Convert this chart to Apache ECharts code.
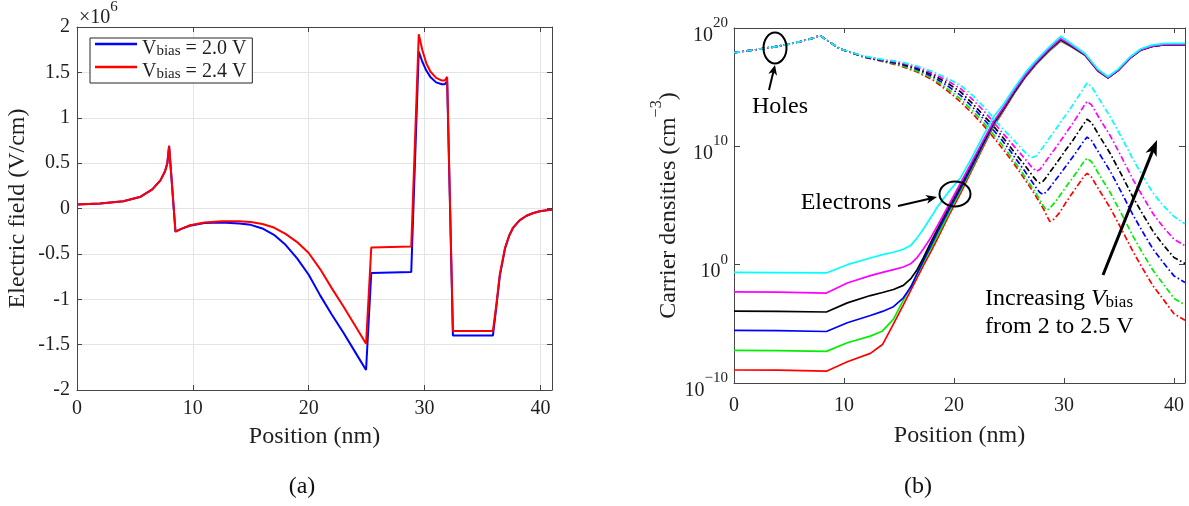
<!DOCTYPE html>
<html><head><meta charset="utf-8">
<script src="https://cdn.jsdelivr.net/npm/echarts@6/dist/echarts.min.js"></script>
<style>html,body{margin:0;padding:0;background:#fff}#c{width:1189px;height:506px}</style>
</head><body><div id="c"></div>
<script>
// ---------- Panel (a): electric field (x1e6 V/cm) ----------
const posField = [0, 2, 4, 5.5, 6.5, 7.2, 7.6, 7.8, 7.95, 8.5, 9, 9.75, 11, 12.5, 14, 15, 16, 17, 18, 19, 20, 21, 22, 23, 24, 24.95, 25.4, 28.85, 29.5, 29.8, 30.15, 30.5, 31, 31.5, 31.75, 31.95, 32.45, 35.9, 36.2, 36.5, 36.95, 37.3, 37.65, 38.2, 38.8, 39.4, 39.95, 41];
const fieldV20 = [0.045, 0.055, 0.08, 0.13, 0.21, 0.31, 0.41, 0.5, 0.69, -0.255, -0.225, -0.19, -0.16, -0.155, -0.165, -0.18, -0.22, -0.29, -0.40, -0.55, -0.73, -0.96, -1.17, -1.37, -1.58, -1.78, -0.71, -0.70, 1.73, 1.62, 1.52, 1.45, 1.39, 1.37, 1.37, 1.40, -1.40, -1.40, -1.08, -0.74, -0.44, -0.30, -0.21, -0.13, -0.08, -0.05, -0.03, -0.01];
const fieldV24 = [0.045, 0.055, 0.08, 0.13, 0.21, 0.31, 0.41, 0.5, 0.69, -0.255, -0.225, -0.185, -0.155, -0.14, -0.14, -0.15, -0.17, -0.21, -0.28, -0.37, -0.49, -0.67, -0.88, -1.08, -1.29, -1.49, -0.43, -0.42, 1.92, 1.75, 1.6, 1.51, 1.44, 1.41, 1.41, 1.45, -1.35, -1.35, -1.05, -0.72, -0.43, -0.30, -0.21, -0.13, -0.08, -0.05, -0.03, -0.01];
const legendNames = ['Vbias = 2.0 V', 'Vbias = 2.4 V'];

// ---------- Panel (b): carrier densities, log10(cm^-3) ----------
const biasLabels = ['2.0', '2.1', '2.2', '2.3', '2.4', '2.5'];
const posElec = [0, 4, 8.4, 10.3, 12.4, 13.5, 14.5, 15.4, 16.1, 16.6, 17.2, 17.9, 18.5, 19.5, 20.6, 21.6, 22.6, 23.6, 24.5, 25.5, 26.5, 27.4, 28.6, 29.7, 30.7, 31.9, 33.1, 34.0, 34.9, 36.0, 37.0, 38.0, 39.0, 40.0, 41];
const logElecRed     = [-8.9, -8.92, -9.0, -8.2, -7.5, -6.75, -5.0, -3.4, -2.1, -1.2, -0.1, 1.1, 2.2, 4.1, 6.05, 7.95, 9.85, 11.7, 13.0, 14.5, 15.85, 16.85, 18.0, 18.9, 18.4, 17.7, 16.35, 15.8, 16.4, 17.45, 18.15, 18.45, 18.58, 18.6, 18.6];
const logElecGreen   = [-7.25, -7.27, -7.33, -6.6, -6.04, -5.6, -4.6, -3.0, -1.8, -0.9, 0.15, 1.4, 2.45, 4.3, 6.25, 8.1, 10.0, 11.8, 13.1, 14.55, 15.9, 16.9, 18.05, 18.95, 18.43, 17.72, 16.37, 15.8, 16.4, 17.45, 18.15, 18.45, 18.58, 18.6, 18.6];
const logElecBlue    = [-5.56, -5.58, -5.65, -4.91, -4.3, -3.95, -3.55, -2.8, -1.85, -0.85, 0.3, 1.6, 2.75, 4.55, 6.45, 8.25, 10.1, 11.9, 13.15, 14.6, 15.95, 16.95, 18.1, 19.0, 18.46, 17.74, 16.38, 15.8, 16.4, 17.45, 18.15, 18.45, 18.58, 18.6, 18.6];
const logElecBlack   = [-3.93, -3.95, -4.0, -3.23, -2.61, -2.35, -2.1, -1.75, -1.15, -0.5, 0.55, 1.9, 3.0, 4.8, 6.65, 8.45, 10.25, 12.0, 13.2, 14.65, 16.0, 17.0, 18.15, 19.05, 18.5, 17.75, 16.4, 15.8, 16.4, 17.45, 18.15, 18.45, 18.58, 18.6, 18.6];
const logElecMagenta = [-2.3, -2.32, -2.4, -1.55, -0.93, -0.65, -0.42, -0.2, 0.1, 0.55, 1.3, 2.3, 3.3, 5.0, 6.9, 8.65, 10.4, 12.1, 13.3, 14.75, 16.05, 17.05, 18.2, 19.1, 18.53, 17.77, 16.42, 15.82, 16.42, 17.47, 18.17, 18.47, 18.6, 18.62, 18.62];
const logElecCyan    = [-0.65, -0.67, -0.7, 0.0, 0.56, 0.85, 1.05, 1.3, 1.65, 2.2, 3.0, 4.0, 4.9, 6.15, 7.35, 9.0, 10.8, 12.5, 13.55, 14.95, 16.25, 17.2, 18.35, 19.3, 18.65, 17.85, 16.5, 15.88, 16.5, 17.55, 18.25, 18.55, 18.68, 18.7, 18.7];

const posHole = [0, 2, 4, 6, 7.2, 7.8, 8.4, 9.6, 11.8, 13.5, 15.1, 16.6, 18.1, 19.4, 20.6, 21.7, 22.7, 23.5, 24.2, 25.0, 25.7, 26.4, 26.8, 27.1, 27.5, 27.8, 28.1, 28.4, 28.7, 29.1, 29.6, 30.2, 30.8, 31.4, 31.8, 32.1, 32.5, 33.2, 34.2, 35.2, 36.3, 37.2, 38.1, 39.0, 40.0, 41];
const logHoleRed     = [17.92, 18.17, 18.45, 18.85, 19.15, 19.38, 19.0, 18.25, 17.55, 17.18, 16.8, 16.3, 15.6, 14.7, 13.75, 12.75, 11.75, 10.85, 10.05, 9.1, 8.2, 7.25, 6.7, 6.3, 5.7, 5.25, 4.75, 4.2, 3.65, 3.85, 4.4, 5.3, 6.1, 6.9, 7.45, 7.72, 7.4, 6.3, 4.8, 3.05, 1.05, -0.4, -1.8, -2.9, -4.15, -4.7];
const logHoleGreen   = [17.92, 18.17, 18.45, 18.85, 19.15, 19.38, 19.0, 18.25, 17.55, 17.2, 16.87, 16.38, 15.72, 14.88, 13.99, 13.0, 12.0, 11.1, 10.33, 9.35, 8.45, 7.5, 6.95, 6.5, 5.95, 5.5, 5.0, 4.6, 4.75, 5.2, 5.8, 6.6, 7.35, 8.15, 8.7, 9.0, 8.7, 7.6, 6.1, 4.35, 2.35, 0.9, -0.5, -1.6, -2.85, -3.4];
const logHoleBlue    = [17.92, 18.17, 18.45, 18.85, 19.15, 19.38, 19.0, 18.25, 17.57, 17.23, 16.95, 16.52, 15.88, 15.12, 14.31, 13.3, 12.3, 11.45, 10.71, 9.75, 8.85, 7.95, 7.4, 7.0, 6.45, 6.1, 5.95, 6.15, 6.5, 7.0, 7.6, 8.35, 9.1, 9.9, 10.45, 10.78, 10.5, 9.4, 7.9, 6.15, 4.15, 2.7, 1.3, 0.2, -0.95, -1.5];
const logHoleBlack   = [17.92, 18.17, 18.45, 18.85, 19.15, 19.38, 19.0, 18.25, 17.58, 17.27, 17.02, 16.62, 16.02, 15.35, 14.6, 13.6, 12.6, 11.8, 11.04, 10.1, 9.25, 8.45, 7.95, 7.55, 7.1, 6.9, 7.05, 7.4, 7.8, 8.3, 8.95, 9.75, 10.5, 11.35, 11.9, 12.3, 12.0, 10.9, 9.4, 7.65, 5.65, 4.2, 2.8, 1.7, 0.6, 0.1];
const logHoleMagenta = [17.92, 18.17, 18.45, 18.85, 19.15, 19.38, 19.0, 18.25, 17.6, 17.3, 17.08, 16.7, 16.15, 15.55, 14.87, 13.95, 13.0, 12.15, 11.37, 10.5, 9.75, 9.0, 8.55, 8.2, 7.9, 8.05, 8.4, 8.8, 9.2, 9.7, 10.35, 11.15, 11.95, 12.8, 13.4, 13.8, 13.5, 12.4, 10.9, 9.15, 7.15, 5.7, 4.3, 3.2, 2.15, 1.6];
const logHoleCyan    = [17.92, 18.17, 18.45, 18.85, 19.15, 19.38, 19.0, 18.25, 17.62, 17.35, 17.15, 16.8, 16.3, 15.75, 15.15, 14.3, 13.35, 12.5, 11.7, 10.95, 10.25, 9.55, 9.2, 9.05, 9.2, 9.55, 9.95, 10.35, 10.75, 11.25, 11.9, 12.7, 13.5, 14.35, 14.95, 15.35, 15.05, 14.0, 12.5, 10.8, 8.85, 7.4, 6.05, 5.0, 4.07, 3.45];

// ---------- styling ----------
const FONT = '"Liberation Serif","Times New Roman",serif';
const TXT = '#1f1f1f';
const AX = '#454545';
const colors6 = ['#ff0000', '#00ee00', '#0000ff', '#000000', '#ff00ff', '#00ffff'];
const elecSets = [logElecRed, logElecGreen, logElecBlue, logElecBlack, logElecMagenta, logElecCyan];
const holeSets = [logHoleRed, logHoleGreen, logHoleBlue, logHoleBlack, logHoleMagenta, logHoleCyan];

const zip = (xs, ys) => xs.map((x, i) => [x, ys[i]]);
const zipLog = (xs, es) => xs.map((x, i) => [x, Math.pow(10, es[i])]);

function xAx(grid, pos, showLabel, margin, split) {
  return {
    type: 'value', gridIndex: grid, position: pos, min: 0, max: 41, interval: 10,
    axisLine: { onZero: false, lineStyle: { color: AX, width: 1 } },
    axisTick: { show: true, inside: true, length: 5, lineStyle: { color: AX } },
    axisLabel: { show: showLabel, margin: margin, showMaxLabel: false, color: TXT, fontSize: 20, fontFamily: FONT },
    splitLine: { show: split, lineStyle: { color: '#e4e4e4', width: 1 } },
    name: showLabel ? 'Position (nm)' : '', nameLocation: 'middle', nameGap: grid === 0 ? 35 : 41,
    nameTextStyle: { color: TXT, fontSize: 24, fontFamily: FONT }
  };
}

const supLabel = v => {
  const p = Math.round(Math.log10(v));
  return '{b|10}{s|' + (p < 0 ? '\u2212' + (-p) : p) + '}';
};
const supRich = {
  b: { fontSize: 20, fontFamily: FONT, color: TXT, lineHeight: 30, verticalAlign: 'bottom' },
  s: { fontSize: 15, fontFamily: FONT, color: TXT, lineHeight: 14, verticalAlign: 'top' }
};

const series = [];
series.push({
  type: 'line', name: legendNames[0], xAxisIndex: 0, yAxisIndex: 0, data: zip(posField, fieldV20),
  symbol: 'none', showSymbol: false, lineStyle: { color: '#0000ff', width: 2 }, itemStyle: { color: '#0000ff' }, z: 3
});
series.push({
  type: 'line', name: legendNames[1], xAxisIndex: 0, yAxisIndex: 0, data: zip(posField, fieldV24),
  symbol: 'none', showSymbol: false, lineStyle: { color: '#ff0000', width: 2 }, itemStyle: { color: '#ff0000' }, z: 4
});
elecSets.forEach((es, k) => series.push({
  type: 'line', name: 'n ' + biasLabels[k] + ' V', xAxisIndex: 2, yAxisIndex: 2, data: zipLog(posElec, es),
  symbol: 'none', showSymbol: false, lineStyle: { color: colors6[k], width: 1.7 }, z: 3 + k
}));
holeSets.forEach((es, k) => series.push({
  type: 'line', name: 'p ' + biasLabels[k] + ' V', xAxisIndex: 2, yAxisIndex: 2, data: zipLog(posHole, es),
  symbol: 'none', showSymbol: false, lineStyle: { color: colors6[k], width: 1.7, type: [6, 2.5, 1.6, 2.5], cap: 'butt' }, z: 3 + k
}));

function arrow(x1, y1, x2, y2, w, hl, hw) {
  const dx = x2 - x1, dy = y2 - y1, L = Math.hypot(dx, dy), ux = dx / L, uy = dy / L, px = -uy, py = ux;
  const bx = x2 - ux * hl, by = y2 - uy * hl;
  return [
    { type: 'line', shape: { x1: x1, y1: y1, x2: x2 - ux * hl * 0.6, y2: y2 - uy * hl * 0.6 }, style: { stroke: '#000', lineWidth: w }, z: 100 },
    { type: 'polygon', shape: { points: [[x2, y2], [bx + px * hw, by + py * hw], [x2 - ux * hl * 0.72, y2 - uy * hl * 0.72], [bx - px * hw, by - py * hw]] }, style: { fill: '#000' }, z: 100 }
  ];
}

const graphics = [
  { type: 'text', x: 79, y: 0, z: 100, style: { text: '{a|\u00d710}{b|6}', textAlign: 'left', textVerticalAlign: 'top',
      rich: { a: { fontSize: 20, fontFamily: FONT, fill: TXT, color: TXT, lineHeight: 28, verticalAlign: 'bottom' },
              b: { fontSize: 15, fontFamily: FONT, fill: TXT, color: TXT, lineHeight: 14, verticalAlign: 'top' } } } },
  { type: 'text', x: 302, y: 487, z: 100, style: { text: '(a)', fontSize: 24, fontFamily: FONT, fill: '#111', textAlign: 'center', textVerticalAlign: 'middle' } },
  { type: 'text', x: 918, y: 487, z: 100, style: { text: '(b)', fontSize: 24, fontFamily: FONT, fill: '#111', textAlign: 'center', textVerticalAlign: 'middle' } },
  { type: 'ellipse', shape: { cx: 775, cy: 48, rx: 11.5, ry: 15.5 }, style: { fill: 'none', stroke: '#000', lineWidth: 2 }, z: 100 },
  { type: 'ellipse', shape: { cx: 955, cy: 194, rx: 15.5, ry: 12.5 }, style: { fill: 'none', stroke: '#000', lineWidth: 2 }, z: 100 },
  { type: 'text', x: 780, y: 107, z: 100, style: { text: 'Holes', fontSize: 24, fontFamily: FONT, fill: '#000', textAlign: 'center', textVerticalAlign: 'middle' } },
  { type: 'text', x: 846, y: 203, z: 100, style: { text: 'Electrons', fontSize: 24, fontFamily: FONT, fill: '#000', textAlign: 'center', textVerticalAlign: 'middle' } },
  { type: 'text', x: 985, y: 283, z: 100, style: { text: '{t|Increasing }{v|V}{s|bias}\n{t|from 2 to 2.5 V}', textAlign: 'left', textVerticalAlign: 'top',
      rich: { t: { fontSize: 24, fontFamily: FONT, fill: '#000', color: '#000', lineHeight: 28, verticalAlign: 'bottom' },
              v: { fontSize: 24, fontFamily: FONT, fontStyle: 'italic', fill: '#000', color: '#000', lineHeight: 28, verticalAlign: 'bottom' },
              s: { fontSize: 17, fontFamily: FONT, fill: '#000', color: '#000', lineHeight: 14, verticalAlign: 'bottom' } } } }
].concat(arrow(769, 90, 775, 65, 2, 10, 4.5))
 .concat(arrow(898, 206, 937, 197, 2, 11, 4.5))
 .concat(arrow(1103, 275, 1157, 140, 3, 16, 6));

const option = {
  animation: false,
  backgroundColor: '#fff',
  grid: [
    { left: 77, top: 27, width: 475, height: 363 },
    { left: 734, top: 28, width: 451, height: 355 }
  ],
  legend: {
    data: legendNames.map(n => ({ name: n, icon: 'rect' })),
    orient: 'vertical', left: 90, top: 38, itemWidth: 42, itemHeight: 2.5, itemGap: 3,
    padding: [1, 6, 1, 5], borderColor: '#262626', borderWidth: 1, backgroundColor: '#fff', selectedMode: false,
    formatter: name => '{v|V}{s|bias}{t|' + name.slice(5) + '}',
    textStyle: {
      rich: {
        v: { fontSize: 20, fontFamily: FONT, color: TXT, lineHeight: 30, verticalAlign: 'bottom' },
        s: { fontSize: 15, fontFamily: FONT, color: TXT, lineHeight: 10, verticalAlign: 'bottom' },
        t: { fontSize: 20, fontFamily: FONT, color: TXT, lineHeight: 30, verticalAlign: 'bottom' }
      }
    }
  },
  xAxis: [xAx(0, 'bottom', true, 9, true), xAx(0, 'top', false, 8, false), xAx(1, 'bottom', true, 13, false), xAx(1, 'top', false, 8, false)],
  yAxis: [
    { type: 'value', gridIndex: 0, position: 'left', min: -2, max: 2, interval: 0.5,
      axisLine: { show: true, onZero: false, lineStyle: { color: AX } },
      axisTick: { show: true, inside: true, length: 5, lineStyle: { color: AX } },
      axisLabel: { margin: 7, color: TXT, fontSize: 20, fontFamily: FONT },
      splitLine: { show: true, lineStyle: { color: '#e4e4e4' } },
      name: 'Electric field (V/cm)', nameLocation: 'middle', nameGap: 47, nameRotate: 90,
      nameTextStyle: { color: TXT, fontSize: 24, fontFamily: FONT } },
    { type: 'value', gridIndex: 0, position: 'right', min: -2, max: 2, interval: 0.5,
      axisLine: { show: true, onZero: false, lineStyle: { color: AX } },
      axisTick: { show: true, inside: true, length: 5, lineStyle: { color: AX } },
      axisLabel: { show: false }, splitLine: { show: false } },
    { type: 'log', logBase: 10, gridIndex: 1, position: 'left', min: 1e-10, max: 1e20,
      axisLine: { show: true, onZero: false, lineStyle: { color: AX } },
      axisTick: { show: true, inside: true, length: 6, lineStyle: { color: AX } },
      minorTick: { show: false },
      axisLabel: { margin: 6, formatter: supLabel, rich: supRich, padding: [5, 0, 0, 0] },
      splitLine: { show: false },
      name: '{t|Carrier densities (cm}{s|\u22123}{t|)}', nameLocation: 'middle', nameGap: 52, nameRotate: 90,
      nameTextStyle: { rich: {
        t: { fontSize: 24, fontFamily: FONT, color: TXT, lineHeight: 32, verticalAlign: 'bottom' },
        s: { fontSize: 16, fontFamily: FONT, color: TXT, lineHeight: 20, verticalAlign: 'top' } } } },
    { type: 'log', logBase: 10, gridIndex: 1, position: 'right', min: 1e-10, max: 1e20,
      axisLine: { show: true, onZero: false, lineStyle: { color: AX } },
      axisTick: { show: true, inside: true, length: 6, lineStyle: { color: AX } },
      axisLabel: { show: false }, splitLine: { show: false } }
  ],
  series: series,
  graphic: { elements: graphics }
};

const chart = echarts.init(document.getElementById('c'), null, { renderer: 'canvas' });
chart.setOption(option);
</script></body></html>
